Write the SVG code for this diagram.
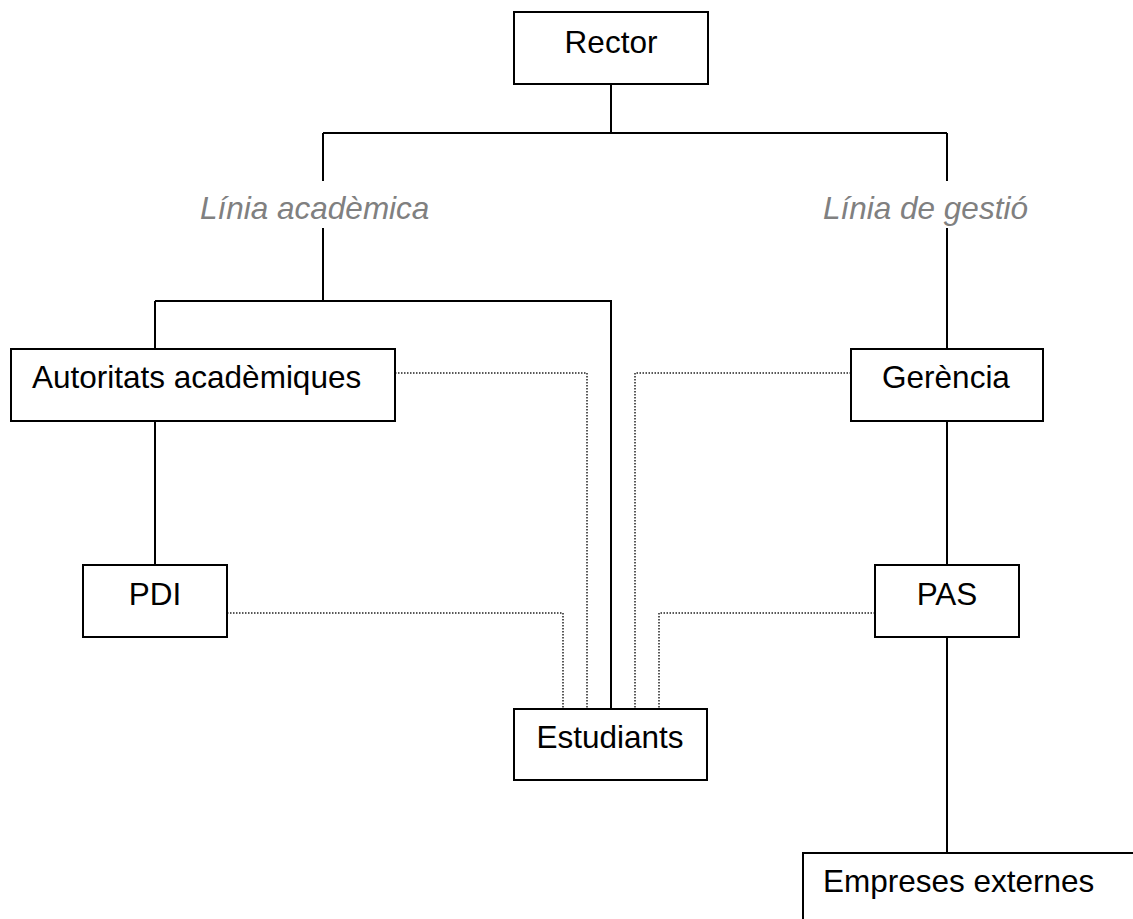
<svg xmlns="http://www.w3.org/2000/svg" width="1133" height="919" viewBox="0 0 1133 919">
<style>
.box{fill:#fff;stroke:#000;stroke-width:2}
.t{font-family:"Liberation Sans",Arial,sans-serif;font-size:31.5px;fill:#000}
.lbl{font-family:"Liberation Sans",Arial,sans-serif;font-size:31.5px;font-style:italic;fill:#808080}
.solid{fill:none;stroke:#000;stroke-width:2}
.dot{fill:none;stroke:#222;stroke-width:1.5;stroke-dasharray:1.5 1.5}
</style>
<rect width="1133" height="919" fill="#fff"/>
<g id="connectors">
<path class="solid" d="M611 84V133M323 133H947M323 133V181M947 133V181M323 228V301M947 228V349M155 301H611V709M155 301V349M155 421V565M947 421V565M947 637V853"/>
<path class="dot" d="M395 373H587V709M227 613H563V709M851 373H635V709M875 613H659V709"/>
</g>
<g id="label-academica"><text class="lbl" x="200" y="219">Línia acadèmica</text></g>
<g id="label-gestio"><text class="lbl" x="823" y="219">Línia de gestió</text></g>
<g id="rector"><rect class="box" x="514" y="12" width="194" height="72"/><text class="t" x="611" y="53" text-anchor="middle">Rector</text></g>
<g id="autoritats"><rect class="box" x="11" y="349" width="384" height="72"/><text class="t" x="32" y="388">Autoritats acadèmiques</text></g>
<g id="gerencia"><rect class="box" x="851" y="349" width="192" height="72"/><text class="t" x="946" y="388" text-anchor="middle">Gerència</text></g>
<g id="pdi"><rect class="box" x="83" y="565" width="144" height="72"/><text class="t" x="155" y="605" text-anchor="middle">PDI</text></g>
<g id="pas"><rect class="box" x="875" y="565" width="144" height="72"/><text class="t" x="947" y="605" text-anchor="middle">PAS</text></g>
<g id="estudiants"><rect class="box" x="514" y="709" width="193" height="71"/><text class="t" x="610" y="748" text-anchor="middle">Estudiants</text></g>
<g id="empreses"><rect class="box" x="803" y="853" width="340" height="80"/><text class="t" x="823" y="892">Empreses externes</text></g>
</svg>
